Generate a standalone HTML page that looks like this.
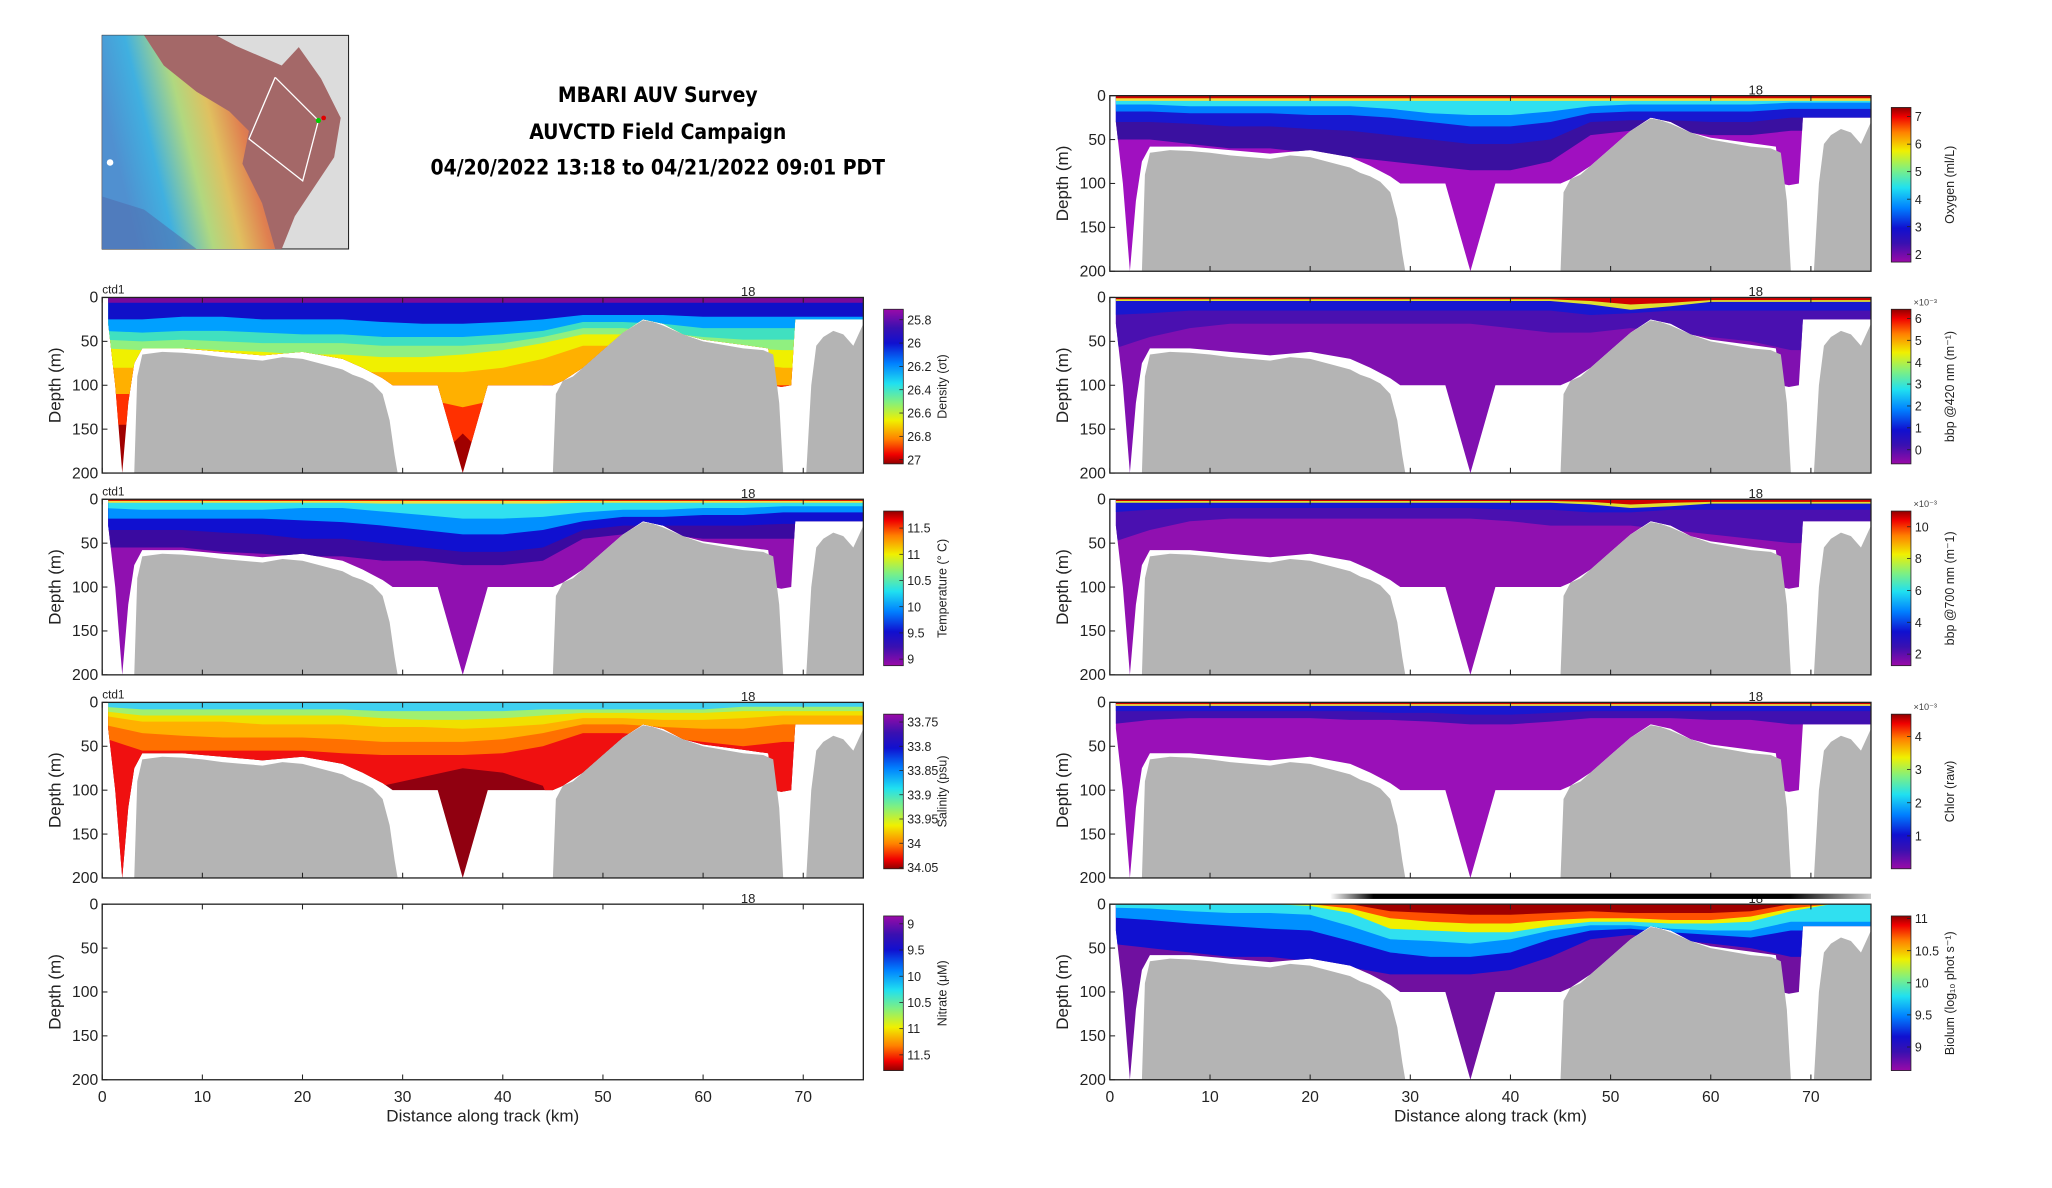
<!DOCTYPE html>
<html><head><meta charset="utf-8">
<style>
html,body{margin:0;padding:0;background:#fff;}
svg{display:block;font-family:"Liberation Sans Narrow","Liberation Sans","DejaVu Sans",sans-serif;}
</style></head>
<body>
<svg id="fig" xmlns="http://www.w3.org/2000/svg" width="2052" height="1188" viewBox="0 0 1566 906.6" preserveAspectRatio="none">
<defs>
<linearGradient id="jetUp" x1="0" y1="1" x2="0" y2="0">
<stop offset="0" stop-color="#9a0aa8"/><stop offset="0.12" stop-color="#3a10b0"/><stop offset="0.22" stop-color="#1010d0"/><stop offset="0.35" stop-color="#0080ff"/><stop offset="0.48" stop-color="#20e0f0"/><stop offset="0.6" stop-color="#80f080"/><stop offset="0.72" stop-color="#f0f000"/><stop offset="0.84" stop-color="#ff8000"/><stop offset="0.94" stop-color="#f00000"/><stop offset="1" stop-color="#900000"/>
</linearGradient>
<linearGradient id="jetDown" x1="0" y1="0" x2="0" y2="1">
<stop offset="0" stop-color="#9a0aa8"/><stop offset="0.12" stop-color="#3a10b0"/><stop offset="0.22" stop-color="#1010d0"/><stop offset="0.35" stop-color="#0080ff"/><stop offset="0.48" stop-color="#20e0f0"/><stop offset="0.6" stop-color="#80f080"/><stop offset="0.72" stop-color="#f0f000"/><stop offset="0.84" stop-color="#ff8000"/><stop offset="0.94" stop-color="#f00000"/><stop offset="1" stop-color="#900000"/>
</linearGradient>
<linearGradient id="bioBar" x1="0" y1="0" x2="1" y2="0">
<stop offset="0" stop-color="#fff"/><stop offset="0.08" stop-color="#000"/><stop offset="0.85" stop-color="#000"/><stop offset="1" stop-color="#ccc"/>
</linearGradient>
<linearGradient id="mapRain" x1="0" y1="0.3" x2="1" y2="0">
<stop offset="0" stop-color="#5090d0"/><stop offset="0.2" stop-color="#40b0e0"/><stop offset="0.4" stop-color="#b0d880"/><stop offset="0.55" stop-color="#e0c060"/><stop offset="0.7" stop-color="#e08050"/><stop offset="0.85" stop-color="#c06060"/><stop offset="1" stop-color="#a46868"/>
</linearGradient>
</defs>
<g id="map">
<rect x="78" y="27" width="188" height="163" fill="#dcdcdc" stroke="#222" stroke-width="0.8"/>
<path d="M78 27 L165 27 L180 35 L215 50 L228 36 L245 60 L260 90 L255 120 L235 150 L225 165 L215 190 L78 190 Z" fill="#a46868"/>
<path d="M78 27 L110 27 L125 50 L150 70 L175 85 L190 100 L185 125 L200 155 L210 190 L78 190 Z" fill="url(#mapRain)"/>
<path d="M78 150 L110 160 L130 175 L150 190 L78 190 Z" fill="#5070b0" opacity="0.6"/>
<polyline points="210,59 243,92 231,138 190,106 210,59" fill="none" stroke="#fff" stroke-width="1"/>
<circle cx="243" cy="92" r="2" fill="#00d000"/><circle cx="247" cy="90" r="1.8" fill="#e00000"/>
<circle cx="84" cy="124" r="2.5" fill="#fff"/>
</g>
<g font-family="'DejaVu Sans Condensed','DejaVu Sans',sans-serif" font-weight="bold" font-size="16" text-anchor="middle" fill="#000">
<text x="502" y="78">MBARI AUV Survey</text>
<text x="502" y="106">AUVCTD Field Campaign</text>
<text x="502" y="133">04/20/2022 13:18 to 04/21/2022 09:01 PDT</text>
</g>
<g id="panels"></g>
</svg>
<script>
// ---- shared data ----
const bandKm = [0,4,8,12,16,20,24,28,32,36,40,44,48,52,56,60,64,68,72,76];
const floorKmA = [3.2,3.5,4,6,8,10,12,14,16,18,20,22,24,25,26,27,28,28.7,29.2,29.5];
const floorDepA = [200,90,65,62,63,65,68,70,72,68,70,76,82,88,92,98,110,140,180,200];
const floorKmB = [45,45.3,46,47,48,50,52,54,55,56,58,60,62,64,66,67,67.6,68];
const floorDepB = [200,110,95,90,80,60,40,26,28,32,42,50,54,58,60,65,120,200];
const floorKmC = [70.3,70.8,71.3,72,73,74,75,76];
const floorDepC = [200,100,55,45,38,42,55,30];
const dataKm = [0.6,1.3,2,2.6,3.2,4,8,12,16,20,24,26,28,29,33.5,36,38.5,45,46,48,50,52,54,56,58,60,64,66.5,67,67.8,68.8,69.2,70,76];
const dataBottom = [30,100,200,120,75,58,58,62,66,62,70,80,92,100,100,200,100,100,95,80,60,40,25,30,42,48,54,58,100,102,100,25,25,25];
const depthTicks = [0,50,100,150,200];
const kmTicks = [0,10,20,30,40,50,60,70];

// ---- per-panel band data (depth of bottom of each colour band at bandKm) ----
const densColors = ['#7a0a9a','#1010c8','#00a0ff','#40e0c0','#90f080','#f0f000','#ffb000','#ff3000','#a00000'];
const densB1 = [6,6,6,6,6,6,6,6,6,6,6,6,6,6,6,6,6,6,6,6];
const densB2 = [25,25,22,22,25,25,25,28,30,30,28,25,20,20,20,22,22,22,22,22];
const densB3 = [38,40,38,38,40,42,42,45,45,45,42,38,28,28,30,35,35,35,35,35];
const densB4 = [48,50,48,50,52,52,52,55,55,55,52,45,35,35,40,45,48,48,48,48];
const densB5 = [58,60,58,60,62,65,65,68,68,65,60,52,42,42,48,55,58,60,60,60];
const densB6 = [80,80,80,80,85,85,85,85,85,85,80,70,55,55,60,70,75,80,80,80];
const densB7 = [110,110,110,110,110,110,110,110,115,125,115,100,100,100,100,100,100,100,100,100];
const densB8 = [145,145,200,200,200,200,200,200,200,155,200,200,200,200,200,200,200,200,200,200];

const tempColors = ['#e02000','#f0e040','#30e0f0','#0090ff','#1010d0','#3a0aa0','#9010b0'];
const tempB1 = [2,2,2,2,2,2,2,2,2,2,2,2,2,2,2,2,2,2,2,2];
const tempB2 = [4,4,4,4,4,4,4,5,5,5,5,5,4,4,4,4,4,4,4,4];
const tempB3 = [10,12,12,12,12,10,10,14,18,22,22,20,15,12,12,10,10,8,8,8];
const tempB4 = [22,22,22,22,22,24,26,30,35,40,40,35,25,20,20,18,18,15,15,15];
const tempB5 = [35,35,35,38,40,45,45,50,55,60,60,55,35,30,30,30,30,28,28,28];
const tempB6 = [55,55,55,60,62,65,65,70,70,75,75,70,45,40,40,45,45,45,45,45];

const salColors = ['#40d0f0','#a0f070','#f0e000','#ffb000','#ff7000','#f01010','#900010'];
const salB1 = [5,8,8,8,8,8,8,10,10,10,10,8,8,8,8,8,5,5,5,5];
const salB2 = [10,15,15,15,15,15,15,18,20,20,18,15,12,12,12,12,10,10,10,10];
const salB3 = [15,22,22,22,25,25,25,28,28,30,28,25,18,18,20,20,18,15,15,15];
const salB4 = [25,35,38,40,40,40,42,45,45,45,42,35,25,25,28,30,30,25,25,25];
const salB5 = [40,55,55,55,55,55,58,60,60,60,58,50,35,35,40,45,50,45,45,45];
const salB6 = [200,200,200,200,200,200,200,95,85,75,80,95,200,200,200,200,200,200,200,200];

const oxyColors = ['#d00000','#f0e040','#30e0f0','#0080ff','#1818d0','#3a10a0','#a010c0'];
const oxyB1 = [3,3,3,3,3,3,3,3,3,3,3,3,3,3,3,3,3,3,3,3];
const oxyB2 = [6,6,6,6,6,6,6,6,6,6,6,6,6,6,6,6,6,6,6,6];
const oxyB3 = [10,10,12,12,12,12,12,15,20,22,22,18,12,10,10,10,10,8,8,8];
const oxyB4 = [18,18,20,20,20,22,22,25,30,35,35,30,20,18,18,18,18,15,15,15];
const oxyB5 = [30,30,32,35,35,38,40,45,50,55,55,50,30,28,28,30,30,25,25,25];
const oxyB6 = [50,50,55,60,60,65,70,75,80,85,85,75,45,40,40,45,45,40,40,40];

const b420Colors = ['#d00000','#e0e030','#1818d0','#4a10b0','#8010b0'];
const b420B1 = [2,2,2,2,2,2,2,2,2,2,2,2,4,8,6,3,3,3,3,3];
const b420B2 = [4,4,4,4,4,4,4,4,4,4,4,4,8,14,10,5,5,5,5,5];
const b420B3 = [20,18,15,15,15,15,15,15,15,15,15,15,20,18,15,15,15,15,15,15];
const b420B4 = [60,45,35,30,30,30,30,30,30,30,35,40,40,35,40,45,50,60,60,60];

const b700Colors = ['#d00000','#e0e030','#1818d0','#4a10b0','#9010b0'];
const b700B1 = [2,2,2,2,2,2,2,2,2,2,2,2,3,6,4,3,3,3,3,3];
const b700B2 = [4,4,4,4,4,4,4,4,4,4,4,4,6,10,8,5,5,5,5,5];
const b700B3 = [15,12,10,10,10,10,10,10,10,10,12,12,15,15,12,12,12,12,12,12];
const b700B4 = [50,35,25,22,22,22,22,22,22,22,25,30,30,30,35,40,45,50,50,50];

const chlColors = ['#d00000','#f0e040','#1818d0','#4010b0','#9a10b8'];
const chlB1 = [2,2,2,2,2,2,2,2,2,2,2,2,2,2,2,2,2,2,2,2];
const chlB2 = [4,4,4,4,4,4,4,4,4,4,4,4,4,4,4,4,4,4,4,4];
const chlB3 = [10,10,10,10,10,10,10,12,12,14,14,12,10,10,10,10,10,10,10,10];
const chlB4 = [25,20,18,18,18,18,20,20,22,25,25,22,18,18,18,20,20,25,25,25];

const bioColors = ['#a00000','#ff5000','#f0f000','#30e0f0','#0090ff','#1010d0','#7010a0'];
const bioB1 = [0,0,0,0,0,0,0,8,10,12,12,10,8,10,10,10,8,0,0,0];
const bioB2 = [0,0,0,0,0,0,5,16,20,22,22,18,16,16,18,18,14,5,0,0];
const bioB3 = [0,0,0,0,0,2,10,28,30,32,32,25,20,20,22,22,20,8,0,0];
const bioB4 = [4,5,8,10,10,12,25,40,42,45,40,30,24,24,28,30,30,20,20,20];
const bioB5 = [15,18,22,25,28,30,42,55,60,60,55,40,30,28,32,35,38,30,30,30];
const bioB6 = [45,50,55,60,60,65,72,80,80,80,75,60,40,35,40,45,50,60,60,60];

// colorbar tick labels
const densTicks = ['25.8','26','26.2','26.4','26.6','26.8','27'];
const tempTicks = ['11.5','11','10.5','10','9.5','9'];
const salTicks = ['33.75','33.8','33.85','33.9','33.95','34','34.05'];
const nitTicks = ['9','9.5','10','10.5','11','11.5'];
const oxyTicks = ['7','6','5','4','3','2'];
const b420Ticks = ['6','5','4','3','2','1','0'];
const b700Ticks = ['10','8','6','4','2'];
const chlTicks = ['4','3','2','1'];
const bioTicks = ['11','10.5','10','9.5','9'];

const NS='http://www.w3.org/2000/svg';
const root=document.getElementById('panels');
function mk(tag,attrs,parent){const e=document.createElementNS(NS,tag);for(const k in attrs)e.setAttribute(k,attrs[k]);(parent||root).appendChild(e);return e;}

const KM_PX = 535/70, AX_H = 134;
function makePanel(opt){
  const x0=opt.x0, top=opt.top;
  const X=km=>x0+km*KM_PX, Y=d=>top+d*AX_H/200;
  const g=mk('g',{});
  
  
  const cid='clip-'+opt.name;
  const cp=mk('clipPath',{id:cid},g);
  const dpts=[[X(dataKm[0]),Y(0)]].concat(dataKm.map((k,i)=>[X(k),Y(dataBottom[i])])).concat([[X(76),Y(0)]]);
  mk('polygon',{points:dpts.map(p=>p.join(',')).join(' ')},cp);
  if(opt.colors){
    const dg=mk('g',{'clip-path':'url(#'+cid+')'},g);
    
    
    mk('rect',{x:X(0),y:Y(0),width:X(76)-X(0),height:AX_H,fill:opt.colors[opt.colors.length-1]},dg);
    for(let b=opt.bands.length-1;b>=0;b--){
      const arr=opt.bands[b];
      const pts=bandKm.map(k=>[X(k),Y(0)]).concat(bandKm.map((k,i)=>[X(k),Y(arr[i])]).reverse());
      const pg=mk('polygon',{points:pts.map(p=>p.join(',')).join(' '),fill:opt.colors[b]},dg);
      
      
    }
  }
  // seafloor
  if(opt.floor!==false){
  [[floorKmA,floorDepA],[floorKmB,floorDepB],[floorKmC,floorDepC]].forEach((s,si)=>{
    const pts=s[0].map((k,i)=>[X(k),Y(s[1][i])]);
    pts.push([X(s[0][s[0].length-1]),Y(200)]);pts.push([X(s[0][0]),Y(200)]);
    const sf=mk('polygon',{points:pts.map(p=>p.join(',')).join(' '),fill:'#b4b4b4'},g);
    
    
  });
  }
  // axes
  const ax=mk('rect',{x:X(0),y:top,width:X(76)-X(0),height:AX_H,fill:'none',stroke:'#222','stroke-width':1},g);
  
  
  depthTicks.forEach(d=>{
    mk('line',{x1:X(0),x2:X(0)+4,y1:Y(d),y2:Y(d),stroke:'#222','stroke-width':0.8},g);
    const t=mk('text',{x:X(0)-3,y:Y(d)+4,'text-anchor':'end','font-size':12,fill:'#222'},g);
    t.textContent=d;
    
    
  });
  kmTicks.forEach(k=>{
    mk('line',{x1:X(k),x2:X(k),y1:Y(200),y2:Y(200)-4,stroke:'#222','stroke-width':0.8},g);
    mk('line',{x1:X(k),x2:X(k),y1:Y(0),y2:Y(0)+4,stroke:'#222','stroke-width':0.8},g);
    if(opt.bottom){
      const t=mk('text',{x:X(k),y:Y(200)+17,'text-anchor':'middle','font-size':12,fill:'#222'},g);
      t.textContent=k;
      
      
    }
  });
  if(opt.bottom){
    const t=mk('text',{x:X(38),y:Y(200)+32,'text-anchor':'middle','font-size':13,fill:'#222'},g);
    t.textContent='Distance along track (km)';
    
    
  }
  const yl=mk('text',{x:0,y:0,'text-anchor':'middle','font-size':13,fill:'#222',transform:'translate('+(X(0)-32)+','+(top+AX_H/2)+') rotate(-90)'},g);
  yl.textContent='Depth (m)';
  
  
  const st=mk('text',{x:X(64.5),y:top-1,'text-anchor':'middle','font-size':10,fill:'#222'},g);
  st.textContent='18';
  
  
  if(opt.ctd){
    const c=mk('text',{x:X(0),y:top-3,'font-size':9,fill:'#222'},g);
    c.textContent='ctd1';
    
    
  }
  if(opt.bioBar){
    const bb=mk('rect',{x:X(22),y:top-8,width:X(76)-X(22),height:4,fill:'url(#bioBar)'},g);
    
    
  }
  // colorbar
  const cbx=X(76)+15.5, cby=top+9, cbh=118;
  const cb=mk('rect',{x:cbx,y:cby,width:15,height:cbh,fill:opt.redTop?'url(#jetUp)':'url(#jetDown)',stroke:'#222','stroke-width':0.6},g);
  
  
  opt.ticks.forEach((lab,i)=>{
    const ty=cby+opt.tick0+i*opt.tickStep;
    mk('line',{x1:cbx+12,x2:cbx+15,y1:ty,y2:ty,stroke:'#222','stroke-width':0.6},g);
    const t=mk('text',{x:cbx+18,y:ty+3.5,'font-size':9.5,fill:'#222'},g);
    t.textContent=lab;
    
    
  });
  if(opt.exp){
    const e=mk('text',{x:cbx+17,y:cby-3,'font-size':7,fill:'#444'},g);
    e.textContent='×10⁻³';
    
    
  }
  const cl=mk('text',{x:0,y:0,'text-anchor':'middle','font-size':9.5,fill:'#222',transform:'translate('+(cbx+48)+','+(cby+cbh/2)+') rotate(-90)'},g);
  cl.textContent=opt.label;
  
  
}

const LX=78, RX=847;
makePanel({name:'density-panel',x0:LX,top:227,colors:densColors,bands:[densB1,densB2,densB3,densB4,densB5,densB6,densB7,densB8],ticks:densTicks,tick0:8,tickStep:17.8,label:'Density (σt)',redTop:false,ctd:true});
makePanel({name:'temperature-panel',x0:LX,top:381,colors:tempColors,bands:[tempB1,tempB2,tempB3,tempB4,tempB5,tempB6],ticks:tempTicks,tick0:13,tickStep:20,label:'Temperature (° C)',redTop:true,ctd:true});
makePanel({name:'salinity-panel',x0:LX,top:536,colors:salColors,bands:[salB1,salB2,salB3,salB4,salB5,salB6],ticks:salTicks,tick0:6,tickStep:18.5,label:'Salinity (psu)',redTop:false,ctd:true});
makePanel({name:'nitrate-panel',x0:LX,top:690,colors:null,bands:[],ticks:nitTicks,tick0:6,tickStep:20,label:'Nitrate (μM)',redTop:false,bottom:true,floor:false});
makePanel({name:'oxygen-panel',x0:RX,top:73,colors:oxyColors,bands:[oxyB1,oxyB2,oxyB3,oxyB4,oxyB5,oxyB6],ticks:oxyTicks,tick0:7,tickStep:21,label:'Oxygen (ml/L)',redTop:true});
makePanel({name:'bbp420-panel',x0:RX,top:227,colors:b420Colors,bands:[b420B1,b420B2,b420B3,b420B4],ticks:b420Ticks,tick0:7,tickStep:16.7,label:'bbp @420 nm (m⁻¹)',redTop:true,exp:true});
makePanel({name:'bbp700-panel',x0:RX,top:381,colors:b700Colors,bands:[b700B1,b700B2,b700B3,b700B4],ticks:b700Ticks,tick0:12,tickStep:24.3,label:'bbp @700 nm (m⁻1)',redTop:true,exp:true});
makePanel({name:'chlorophyll-panel',x0:RX,top:536,colors:chlColors,bands:[chlB1,chlB2,chlB3,chlB4],ticks:chlTicks,tick0:17,tickStep:25.3,label:'Chlor (raw)',redTop:true,exp:true});
makePanel({name:'biolum-panel',x0:RX,top:690,colors:bioColors,bands:[bioB1,bioB2,bioB3,bioB4,bioB5,bioB6],ticks:bioTicks,tick0:2,tickStep:24.5,label:'Biolum (log₁₀ phot s⁻¹)',redTop:true,bottom:true,bioBar:true});
</script>
</body></html>
